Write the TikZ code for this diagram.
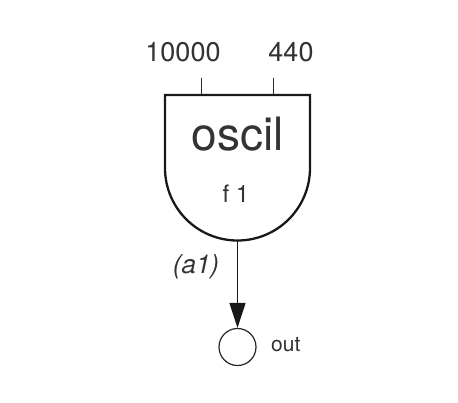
\documentclass[tikz,border=0pt]{standalone}
\usepackage{fontspec}
\setmainfont{TeX Gyre Heros}
\usetikzlibrary{arrows.meta}
\definecolor{txt}{HTML}{333333}
\tikzset{
  lbl/.style={inner sep=0pt, text=txt},
  unitline/.style={line width=2.3pt, draw=black!90},
  tick/.style={line width=1pt, draw=black!85},
  sig/.style={line width=1.3pt, draw=black!90, -{Triangle[length=25pt,width=16pt]}},
}
\begin{document}
\begin{tikzpicture}[x=1pt,y=-1pt]
\useasboundingbox (0,0) rectangle (458,402);
% unit body
\draw[unitline] (165,95) -- (310,95) -- (310,168) arc[start angle=0,end angle=180,radius=72.5] -- cycle;
\coordinate (in1) at (201,95);
\coordinate (in2) at (273,95);
\coordinate (outp) at (237.5,240.5);
\node[lbl, font=\fontsize{27}{29}\selectfont] (l1) at (183,52) {10000};
\node[lbl, font=\fontsize{27}{29}\selectfont] (l2) at (291,52) {440};
\draw[tick] (in1) -- ++(0,-17);
\draw[tick] (in2) -- ++(0,-17);
\node[lbl, font=\fontsize{46}{48}\selectfont] (name) at (237.5,134) {oscil};
\node[lbl, font=\fontsize{24}{26}\selectfont] (tab) at (236,194) {f 1};
% output
\node[circle, draw=black!85, line width=1.2pt, minimum size=37pt, inner sep=0pt] (outc) at (237.5,347) {};
\draw[sig] (outp) -- (outc.north);
\node[lbl, font=\fontsize{26}{28}\selectfont\itshape] (a1) at (196,267) {(a1)};
\node[lbl, font=\fontsize{21}{23}\selectfont, anchor=west] (outl) at (271,345) {out};
\end{tikzpicture}
\end{document}
